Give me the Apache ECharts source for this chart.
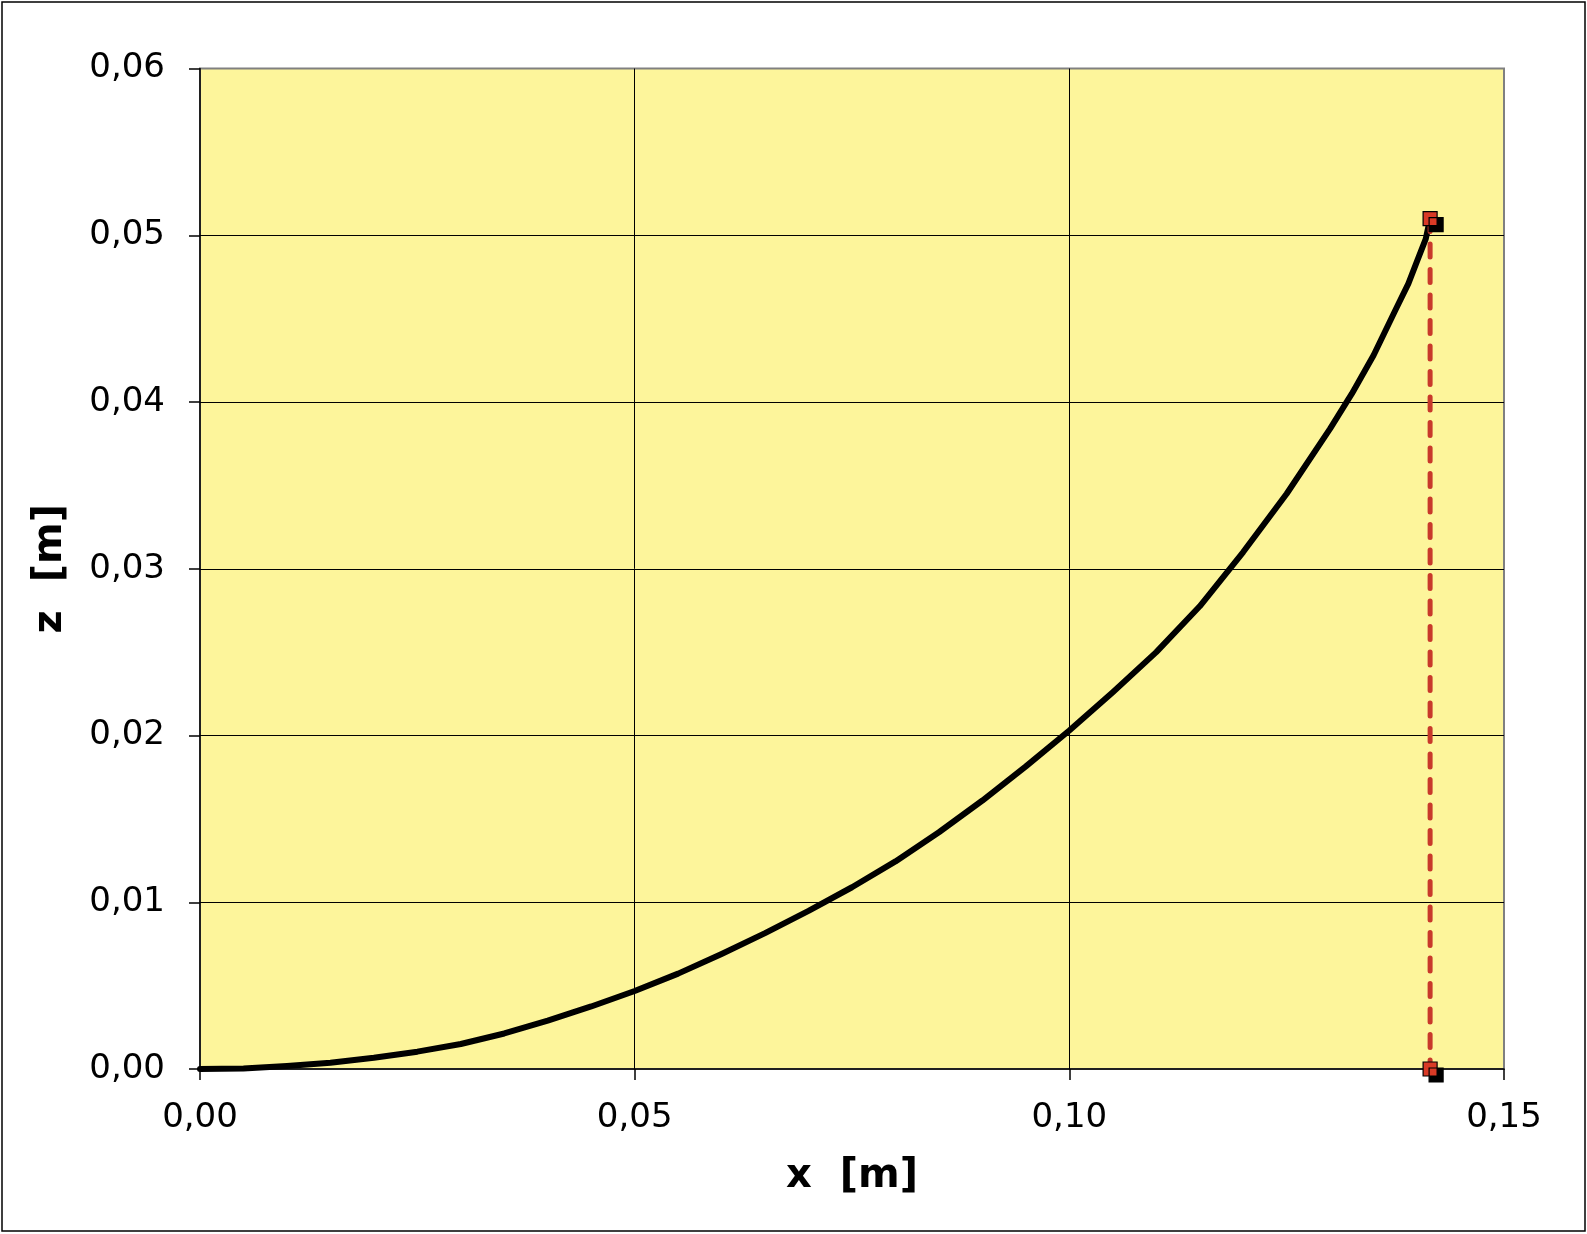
<!DOCTYPE html>
<html>
<head>
<meta charset="utf-8">
<script src="https://cdn.jsdelivr.net/npm/echarts@6/dist/echarts.min.js"></script>
<style>
html,body{margin:0;padding:0;background:#fff;}
#chart{width:1587px;height:1234px;}
</style>
</head>
<body>
<div id="chart"></div>
<script>
// Curve x [m]
const curveX = [0, 0.005, 0.010, 0.015, 0.020, 0.025, 0.030, 0.035, 0.040, 0.045, 0.050,
  0.055, 0.060, 0.065, 0.070, 0.075, 0.080, 0.085, 0.090, 0.095, 0.100,
  0.105, 0.110, 0.115, 0.120, 0.125, 0.130, 0.1325, 0.135, 0.1375, 0.139, 0.140, 0.141, 0.1415];
// Curve z [m]
const curveZ = [0, 0.00003, 0.00018, 0.00038, 0.00067, 0.00104, 0.00150, 0.00213, 0.00290, 0.00375, 0.00468,
  0.00572, 0.00690, 0.00815, 0.00948, 0.01090, 0.01245, 0.01420, 0.01610, 0.01815, 0.02030,
  0.02260, 0.02500, 0.02775, 0.03100, 0.03450, 0.03840, 0.04050, 0.04280, 0.04550, 0.04710, 0.04845, 0.04978, 0.05100];
// Vertical dashed marker line (end point projection)
const markX = [0.1415, 0.1415];
const markZ = [0.0510, 0.0];

const xTitle = 'x  [m]';
const zTitle = 'z  [m]';

const fmt = v => v.toFixed(2).replace('.', ',');

const chart = echarts.init(document.getElementById('chart'), null, {renderer: 'canvas'});
const font = '"DejaVu Sans", Verdana, sans-serif';

chart.setOption({
  animation: false,
  backgroundColor: '#ffffff',
  graphic: [{
    type: 'rect',
    shape: {x: 2, y: 2, width: 1583, height: 1229},
    style: {fill: 'none', stroke: '#000', lineWidth: 1.5},
    silent: true
  }],
  grid: {
    left: 200, right: 83, top: 68.5, bottom: 165,
    show: true,
    backgroundColor: '#fdf59b',
    borderColor: '#808080',
    borderWidth: 2
  },
  xAxis: {
    type: 'value', min: 0, max: 0.15, interval: 0.05,
    name: xTitle, nameLocation: 'middle', nameGap: 88,
    nameTextStyle: {fontFamily: font, fontWeight: 'bold', fontSize: 40, color: '#000'},
    axisLine: {show: true, onZero: false, lineStyle: {color: '#000', width: 1.5}},
    axisTick: {show: true, inside: false, length: 11, lineStyle: {color: '#000', width: 1.5}},
    axisLabel: {formatter: fmt, fontFamily: font, fontSize: 34, color: '#000', margin: 32},
    splitLine: {show: true, showMinLine: false, showMaxLine: false, lineStyle: {color: '#000', width: 1}}
  },
  yAxis: {
    type: 'value', min: 0, max: 0.06, interval: 0.01,
    name: zTitle, nameLocation: 'middle', nameGap: 129, nameRotate: 90,
    nameTextStyle: {fontFamily: font, fontWeight: 'bold', fontSize: 40, color: '#000'},
    axisLine: {show: true, onZero: false, lineStyle: {color: '#000', width: 1.5}},
    axisTick: {show: true, inside: false, length: 11, lineStyle: {color: '#000', width: 1.5}},
    axisLabel: {formatter: fmt, fontFamily: font, fontSize: 34, color: '#000', margin: 35},
    splitLine: {show: true, showMinLine: false, showMaxLine: false, lineStyle: {color: '#000', width: 1}}
  },
  series: [
    {
      type: 'line',
      data: curveX.map((x, i) => [x, curveZ[i]]),
      showSymbol: false,
      smooth: false,
      lineStyle: {color: '#000', width: 6, join: 'round', cap: 'round'},
      z: 3
    },
    {
      type: 'line',
      data: markX.map((x, i) => [x, markZ[i]]),
      symbol: 'rect',
      symbolSize: 14,
      showSymbol: true,
      clip: false,
      lineStyle: {color: '#c8392b', width: 5, type: [13, 12.5], cap: 'round'},
      itemStyle: {
        color: '#d93a26', borderColor: '#000', borderWidth: 1.2,
        shadowColor: '#000', shadowBlur: 0, shadowOffsetX: 6, shadowOffsetY: 6
      },
      z: 4
    }
  ]
});
</script>
</body>
</html>
